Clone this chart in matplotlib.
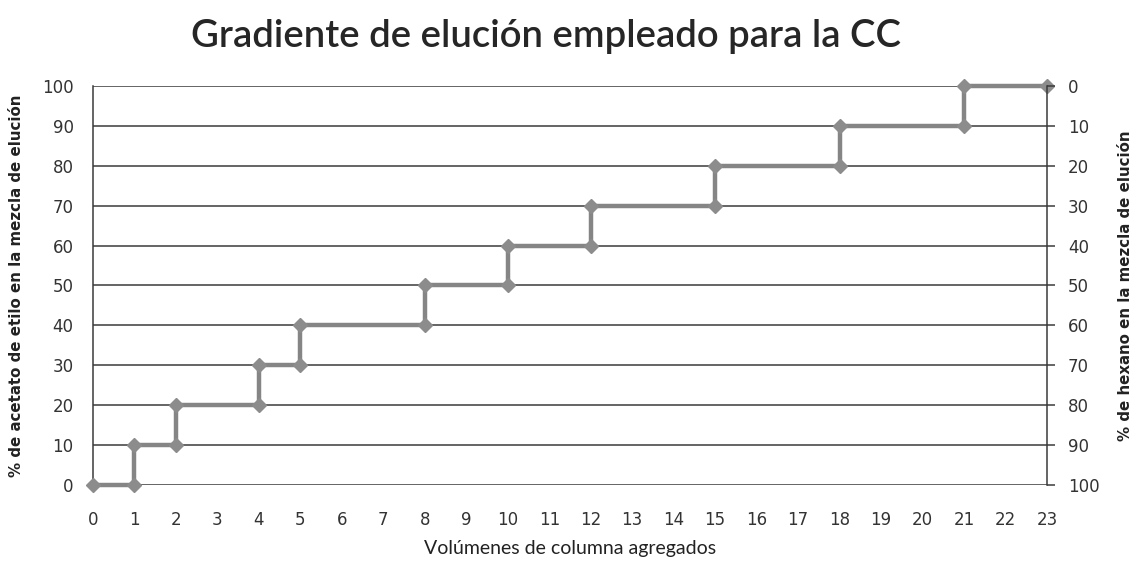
import matplotlib
matplotlib.use("Agg")
import matplotlib.pyplot as plt

# Data
volumes = [0, 1, 1, 2, 2, 4, 4, 5, 5, 8, 8, 10, 10, 12, 12, 15, 15, 18, 18, 21, 21, 23]
acetato = [0, 0, 10, 10, 20, 20, 30, 30, 40, 40, 50, 50, 60, 60, 70, 70, 80, 80, 90, 90, 100, 100]
x_ticks = list(range(0, 24))
y_ticks = list(range(0, 101, 10))

title = "Gradiente de elución empleado para la CC"
xlabel = "Volúmenes de columna agregados"
ylabel_left = "% de acetato de etilo en la mezcla de elución"
ylabel_right = "% de hexano en la mezcla de elución"

fig = plt.figure(figsize=(11.35, 5.65), dpi=100)
ax = fig.add_axes([0.0819, 0.1416, 0.8406, 0.7062])

grid_color = "#3a3a3a"
for y in y_ticks:
    ax.axhline(y, color=grid_color, lw=1.1, zorder=1)

ax.plot(volumes, acetato, color="#858585", lw=3.2, marker="D", markersize=7,
        markerfacecolor="#8c8c8c", markeredgecolor="#8c8c8c", zorder=3, clip_on=False)

ax.set_xlim(0, 23)
ax.set_ylim(0, 100)
ax.set_xticks(x_ticks)
ax.set_yticks(y_ticks)
ax.tick_params(axis="y", length=0, labelsize=12, colors="#333333", pad=14)
ax.tick_params(axis="x", length=0, labelsize=12, colors="#333333", pad=19)
for s in ["top", "right", "bottom"]:
    ax.spines[s].set_visible(False)
ax.spines["left"].set_color(grid_color)
ax.spines["left"].set_linewidth(1.1)

ax2 = ax.twinx()
ax2.set_ylim(100, 0)
ax2.set_yticks(y_ticks)
for s in ["top", "left", "bottom"]:
    ax2.spines[s].set_visible(False)
ax2.spines["right"].set_color(grid_color)
ax2.spines["right"].set_linewidth(1.1)
ax2.tick_params(axis="y", length=6, width=1.1, color=grid_color, labelsize=12,
                labelcolor="#333333", pad=9)

ax.set_ylabel(ylabel_left, fontsize=10.8, fontweight="bold", color="#222222", labelpad=13)
ax2.set_ylabel(ylabel_right, fontsize=10.8, fontweight="bold", color="#222222", labelpad=13)
ax.set_xlabel(xlabel, fontsize=14, family="Lato", color="#222222", labelpad=8)

fig.text(0.481, 0.935, title, fontsize=27.5, family="Lato", fontweight="semibold",
         color="#262626", ha="center", va="center")

fig.savefig("out.png", dpi=100, facecolor="white")
